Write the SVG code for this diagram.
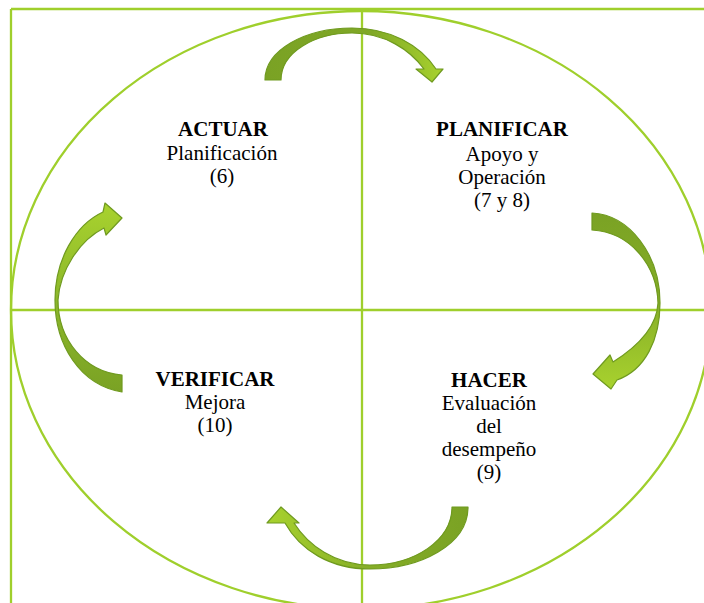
<svg xmlns="http://www.w3.org/2000/svg" width="704" height="603" viewBox="0 0 704 603">
<style>
.ln{stroke:#9FCF2C;stroke-width:2.3;fill:none}
.arr{stroke:#6F9A1F;stroke-width:1.2;stroke-linejoin:round}
text{font-family:"Liberation Serif","Times New Roman",serif;font-size:21px;fill:#000;text-anchor:middle}
.b{font-weight:bold}
</style>
<defs>
<linearGradient id="gTop" x1="265" y1="0" x2="443" y2="0" gradientUnits="userSpaceOnUse"><stop offset="0" stop-color="#7AA224"/><stop offset="0.6" stop-color="#80A826"/><stop offset="1" stop-color="#A8D22E"/></linearGradient>
<linearGradient id="gRight" x1="0" y1="213" x2="0" y2="389" gradientUnits="userSpaceOnUse"><stop offset="0" stop-color="#7AA224"/><stop offset="0.5" stop-color="#86AE27"/><stop offset="1" stop-color="#A8D22E"/></linearGradient>
<linearGradient id="gBottom" x1="468" y1="0" x2="267" y2="0" gradientUnits="userSpaceOnUse"><stop offset="0" stop-color="#7AA224"/><stop offset="0.5" stop-color="#86AE27"/><stop offset="1" stop-color="#A8D22E"/></linearGradient>
<linearGradient id="gLeft" x1="0" y1="392" x2="0" y2="203" gradientUnits="userSpaceOnUse"><stop offset="0" stop-color="#7AA224"/><stop offset="0.5" stop-color="#8DB82A"/><stop offset="1" stop-color="#A8D22E"/></linearGradient>
</defs>
<rect width="704" height="603" fill="#fff"/>
<g id="frame">
<line class="ln" x1="11" y1="9" x2="704" y2="9"/>
<line class="ln" x1="11" y1="9" x2="11" y2="603"/>
<line class="ln" x1="362" y1="9" x2="362" y2="603"/>
<line class="ln" x1="11" y1="310" x2="704" y2="310"/>
<ellipse class="ln" cx="361" cy="310" rx="350" ry="299"/>
</g>
<g id="connectors">
<path class="arr" fill="url(#gTop)" d="M265,80 L281,80 C281,52 315,33 352,33 C385,33 410,50 424,69 L416,69 L432,82 L443,69 L436,69 C420,45 390,28 352,28 C305,28 265,50 265,80 Z"/>
<path class="arr" fill="url(#gRight)" d="M592,213 C630,215 660,255 660,303 C660,340 645,370 617,380 L611,389 L593,374 L610,355 L613,362 C640,345 657,325 658,303 C657,265 630,232 592,230 Z"/>
<path class="arr" fill="url(#gBottom)" d="M468,507 C468,545 420,569 370,569 C330,569 300,550 285,523 L267,523 L281,507 L299,523 L294,523 C308,545 335,565 370,565 C415,565 452,540 452,507 Z"/>
<path class="arr" fill="url(#gLeft)" d="M122,392 C80,385 55,345 55,300 C55,260 75,225 103,212 L105,203 L122,218 L106,235 L104,228 C80,240 60,270 58,300 C58,340 85,372 122,375 Z"/>
</g>
<g id="actuar">
<text class="b" x="223" y="136">ACTUAR</text>
<text x="222" y="160">Planificación</text>
<text x="222" y="183">(6)</text>
</g>
<g id="planificar">
<text class="b" x="502" y="136">PLANIFICAR</text>
<text x="502" y="161">Apoyo y</text>
<text x="502" y="184">Operación</text>
<text x="502" y="207">(7 y 8)</text>
</g>
<g id="verificar">
<text class="b" x="215" y="386">VERIFICAR</text>
<text x="215" y="409">Mejora</text>
<text x="215" y="432">(10)</text>
</g>
<g id="hacer">
<text class="b" x="489" y="387">HACER</text>
<text x="489" y="410">Evaluación</text>
<text x="489" y="433">del</text>
<text x="489" y="456">desempeño</text>
<text x="489" y="479">(9)</text>
</g>
</svg>
